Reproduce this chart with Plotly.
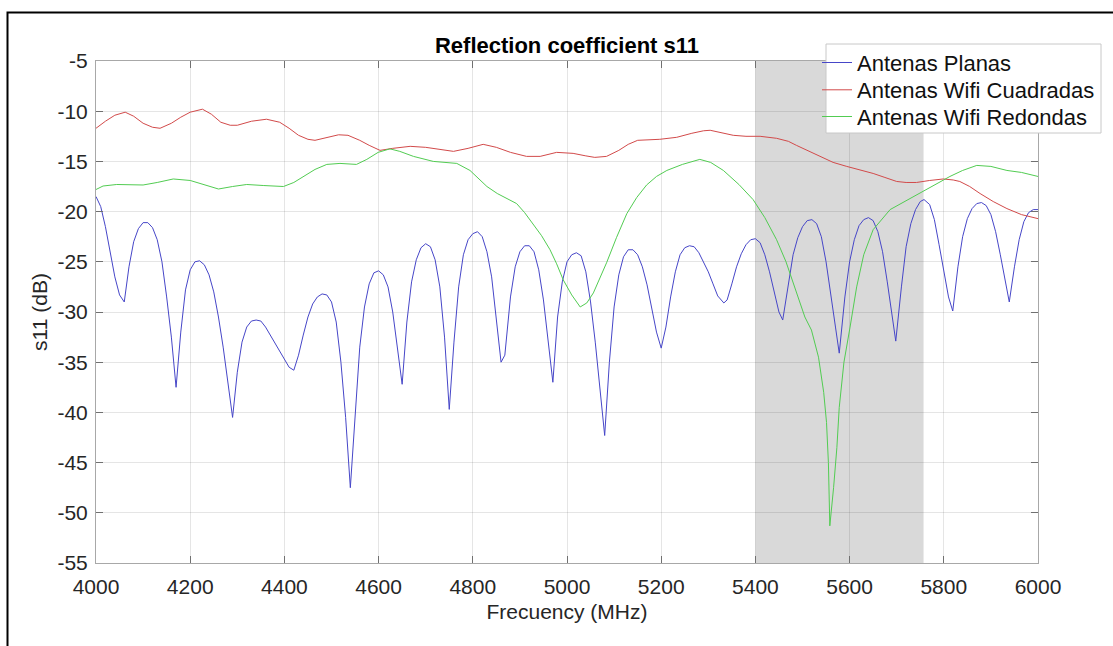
import plotly.graph_objects as go

# ---------------- data ----------------
freq_planas = [4000, 4010, 4020, 4030, 4040, 4050, 4060, 4070, 4080, 4090, 4100, 4110, 4120, 4130, 4140, 4150,
               4160, 4170, 4180, 4190, 4200, 4210, 4220, 4230, 4240, 4250, 4260, 4270, 4280, 4290, 4300, 4310,
               4320, 4330, 4340, 4350, 4360, 4370, 4380, 4390, 4400, 4410, 4420, 4430, 4440, 4450, 4460, 4470,
               4480, 4490, 4500, 4510, 4520, 4530, 4540, 4550, 4560, 4570, 4580, 4590, 4600, 4610, 4620, 4630,
               4640, 4650, 4660, 4670, 4680, 4690, 4700, 4710, 4720, 4730, 4740, 4750, 4760, 4770, 4780, 4790,
               4800, 4810, 4820, 4830, 4840, 4850, 4860, 4868, 4880, 4890, 4900, 4910, 4920, 4930, 4940, 4950,
               4960, 4970, 4980, 4990, 5000, 5010, 5020, 5030, 5040, 5050, 5060, 5070, 5080, 5090, 5100, 5110,
               5120, 5130, 5140, 5150, 5160, 5170, 5180, 5190, 5200, 5210, 5220, 5230, 5240, 5250, 5260, 5270,
               5280, 5290, 5300, 5310, 5320, 5333, 5340, 5350, 5360, 5370, 5380, 5390, 5400, 5410, 5420, 5430,
               5440, 5450, 5458, 5470, 5480, 5490, 5500, 5510, 5520, 5530, 5540, 5550, 5560, 5570, 5578, 5590,
               5600, 5610, 5620, 5630, 5640, 5650, 5660, 5670, 5680, 5690, 5698, 5710, 5720, 5730, 5740, 5750,
               5758, 5770, 5780, 5790, 5800, 5810, 5819, 5830, 5840, 5850, 5860, 5870, 5880, 5890, 5900, 5910,
               5920, 5930, 5939, 5950, 5960, 5970, 5980, 5990, 6000]
s11_planas = [-18.5, -19.5, -21.5, -24.0, -26.5, -28.3, -29.0, -25.5, -23.0, -21.7, -21.1, -21.1, -21.6, -22.8, -25.0, -28.5,
              -32.5, -37.5, -32.0, -27.8, -25.8, -25.0, -24.9, -25.3, -26.3, -28.0, -30.5, -33.5, -37.0, -40.5, -36.0, -33.0,
              -31.5, -30.9, -30.8, -30.9, -31.5, -32.3, -33.2, -34.0, -34.8, -35.5, -35.8, -34.3, -32.3, -30.5, -29.2, -28.5,
              -28.2, -28.3, -29.0, -31.0, -35.0, -40.5, -47.5, -40.0, -33.5, -29.5, -27.2, -26.1, -25.9, -26.3, -27.5, -30.0,
              -33.5, -37.2, -31.0, -27.0, -24.8, -23.6, -23.2, -23.5, -24.8, -27.5, -32.5, -39.7, -33.0, -27.5, -24.3, -22.8,
              -22.2, -22.0, -22.5, -24.0, -26.5, -30.5, -35.0, -34.3, -28.5, -25.5, -24.0, -23.4, -23.4, -24.0, -25.8, -28.8,
              -33.0, -37.0, -30.5, -27.0, -25.0, -24.3, -24.1, -24.4, -26.0, -29.0, -33.0, -37.5, -42.3, -35.0, -29.5, -26.3,
              -24.5, -23.8, -23.8, -24.3, -25.5, -27.3, -29.5, -32.0, -33.6, -31.5, -28.5, -26.0, -24.3, -23.6, -23.4, -23.5,
              -24.1, -25.0, -26.0, -27.2, -28.4, -29.1, -28.8, -27.2, -25.5, -24.2, -23.3, -22.8, -22.7, -23.1, -24.3, -26.0,
              -28.0, -30.0, -30.8, -27.0, -24.3, -22.6, -21.5, -20.9, -20.8, -21.2, -22.5, -25.0, -28.5, -31.5, -34.1, -28.5,
              -25.0, -22.8, -21.4, -20.8, -20.6, -20.9, -22.0, -24.0, -27.0, -30.5, -32.9, -27.5, -23.5, -21.2, -19.8, -19.0,
              -18.8, -19.3, -20.8, -23.3, -26.0, -28.5, -29.9, -25.5, -22.5, -20.7, -19.7, -19.2, -19.1, -19.4, -20.3, -22.0,
              -24.3, -27.0, -29.0, -25.5, -22.8, -21.0, -20.1, -19.8, -19.8]

freq_cuadradas = [4000, 4020, 4040, 4062, 4080, 4100, 4120, 4136, 4160, 4180, 4200, 4226, 4245, 4265, 4285, 4300,
                  4330, 4362, 4390, 4410, 4430, 4450, 4465, 4490, 4515, 4535, 4560, 4580, 4603, 4630, 4667, 4700,
                  4730, 4759, 4790, 4822, 4850, 4880, 4914, 4943, 4978, 5013, 5040, 5059, 5084, 5110, 5130, 5150,
                  5197, 5233, 5265, 5290, 5304, 5330, 5353, 5380, 5410, 5445, 5470, 5487, 5510, 5537, 5565, 5594,
                  5620, 5650, 5675, 5700, 5720, 5742, 5770, 5799, 5820, 5834, 5855, 5877, 5905, 5934, 5965, 6000]
s11_cuadradas = [-11.7, -11.0, -10.4, -10.1, -10.5, -11.2, -11.6, -11.7, -11.2, -10.6, -10.1, -9.8, -10.3, -11.1, -11.4, -11.4,
                 -11.0, -10.8, -11.1, -11.7, -12.4, -12.8, -12.9, -12.6, -12.35, -12.4, -12.9, -13.4, -13.9, -13.7, -13.5, -13.6,
                 -13.8, -14.0, -13.7, -13.3, -13.6, -14.1, -14.5, -14.5, -14.1, -14.2, -14.45, -14.6, -14.5, -13.9, -13.3, -12.9,
                 -12.8, -12.6, -12.2, -11.95, -11.9, -12.2, -12.4, -12.5, -12.5, -12.7, -13.0, -13.4, -13.9, -14.5, -15.1, -15.5,
                 -15.8, -16.2, -16.6, -17.0, -17.1, -17.1, -16.9, -16.75, -16.85, -17.0, -17.5, -18.2, -19.0, -19.7, -20.3, -20.7]

freq_redondas = [4000, 4015, 4044, 4070, 4100, 4130, 4164, 4200, 4230, 4260, 4290, 4320, 4355, 4398, 4420, 4440,
                 4465, 4490, 4518, 4553, 4575, 4599, 4624, 4645, 4674, 4716, 4766, 4794, 4812, 4830, 4852, 4872,
                 4893, 4910, 4928, 4946, 4964, 4978, 4992, 5010, 5028, 5042, 5056, 5070, 5084, 5105, 5127, 5148,
                 5169, 5190, 5212, 5245, 5282, 5305, 5332, 5365, 5395, 5420, 5445, 5465, 5487, 5505, 5519, 5534,
                 5545, 5551, 5555, 5558, 5566, 5573, 5578, 5588, 5601, 5615, 5630, 5650, 5686, 5735, 5778, 5813,
                 5840, 5870, 5900, 5934, 5965, 6000]
s11_redondas = [-17.8, -17.45, -17.3, -17.35, -17.35, -17.1, -16.75, -16.9, -17.35, -17.75, -17.5, -17.3, -17.4, -17.5, -17.1, -16.5,
                -15.8, -15.3, -15.2, -15.3, -14.8, -14.1, -13.75, -14.0, -14.5, -15.0, -15.2, -15.9, -16.7, -17.5, -18.2, -18.7,
                -19.2, -20.1, -21.2, -22.4, -23.8, -25.2, -26.8, -28.3, -29.5, -29.1, -28.1, -26.6, -25.1, -22.6, -20.2, -18.6,
                -17.35, -16.5, -15.9, -15.3, -14.8, -15.1, -15.9, -17.3, -18.8, -20.6, -22.8, -25.0, -28.1, -30.5, -31.8, -34.5,
                -38.0, -41.0, -45.0, -51.3, -47.5, -43.5, -39.5, -35.0, -31.5, -27.5, -24.3, -21.8, -19.8, -18.5, -17.35, -16.5,
                -15.9, -15.4, -15.5, -15.9, -16.1, -16.5]

band_start = 5400
band_end = 5757

series_names = ["Antenas Planas", "Antenas Wifi Cuadradas", "Antenas Wifi Redondas"]
series_colors = ["#4646c8", "#d24a4a", "#52cc52"]

title_text = "Reflection coefficient s11"
x_title = "Frecuency (MHz)"
y_title = "s11 (dB)"
x_range = [4000, 6000]
y_range = [-55, -5]
x_tick_vals = [4000, 4200, 4400, 4600, 4800, 5000, 5200, 5400, 5600, 5800, 6000]
x_tick_text = ["4000", "4200", "4400", "4600", "4800", "5000", "5200", "5400", "5600", "5800", "6000"]
y_tick_vals = [-55, -50, -45, -40, -35, -30, -25, -20, -15, -10, -5]
y_tick_text = ["-55", "-50", "-45", "-40", "-35", "-30", "-25", "-20", "-15", "-10", "-5"]

# ---------------- figure ----------------
FONT = "Liberation Sans, Arial, Helvetica, sans-serif"
TXT = "#262626"
W, H = 1113, 646
L, R, T, B = 96, 75, 61, 83
pw, ph = W - L - R, H - T - B


def px_x(px):
    return (px - L) / pw


def px_y(py):
    return (H - B - py) / ph


legend_ids = ["legend", "legend2", "legend3"]
fig = go.Figure()
for i, (fx, fy) in enumerate([(freq_planas, s11_planas),
                              (freq_cuadradas, s11_cuadradas),
                              (freq_redondas, s11_redondas)]):
    fig.add_trace(go.Scatter(x=fx, y=fy, mode="lines", name=series_names[i],
                             legend=legend_ids[i],
                             line=dict(color=series_colors[i], width=1)))

# shaded band
fig.add_shape(type="rect", xref="x", yref="paper", x0=band_start, x1=band_end, y0=0, y1=1,
              fillcolor="#d9d9d9", line=dict(width=0), layer="below")

# legend box (white, covers the lines)
fig.add_shape(type="rect", xref="paper", yref="paper",
              x0=px_x(826), x1=px_x(1101), y0=px_y(133), y1=px_y(44),
              fillcolor="white", line=dict(color="#c8c8c8", width=1), layer="above")

# outer figure frame (only left/top visible in reference)
fig.add_shape(type="rect", xref="paper", yref="paper",
              x0=px_x(7.5), x1=px_x(W + 20),
              y0=px_y(H + 20), y1=px_y(12.5),
              line=dict(color="black", width=2), fillcolor="rgba(0,0,0,0)", layer="above")

axis_common = dict(
    showgrid=True, gridcolor="rgba(38,38,38,0.12)", gridwidth=1,
    showline=True, linecolor="#a8a8a8", linewidth=1, mirror="ticks",
    ticks="inside", ticklen=7, tickwidth=1, tickcolor="#707070",
    zeroline=False,
    tickfont=dict(family=FONT, size=21, color=TXT),
)

fig.update_xaxes(range=x_range, tickvals=x_tick_vals, ticktext=x_tick_text, ticklabelstandoff=5,
                 title=dict(text=x_title, font=dict(family=FONT, size=21, color=TXT), standoff=7),
                 **axis_common)
fig.update_yaxes(range=y_range, tickvals=y_tick_vals, ticktext=y_tick_text, ticklabelstandoff=3,
                 title=dict(text=y_title, font=dict(family=FONT, size=21, color=TXT), standoff=4),
                 **axis_common)

row_centers = [62.7, 90, 116.7]
leg_common = dict(xanchor="left", yanchor="middle", bgcolor="rgba(0,0,0,0)", borderwidth=0,
                  font=dict(family=FONT, size=22, color="#111111"), itemwidth=30)
legends = {}
for i, lid in enumerate(legend_ids):
    legends[lid] = dict(x=px_x(817), y=px_y(row_centers[i]), **leg_common)

fig.update_layout(
    width=W, height=H, autosize=False,
    margin=dict(l=L, r=R, t=T, b=B, pad=0, autoexpand=False),
    paper_bgcolor="white", plot_bgcolor="white",
    title=dict(text="<b>" + title_text + "</b>", x=(L + pw / 2) / W, xanchor="center",
               y=1 - 45 / H, yanchor="middle",
               font=dict(family=FONT, size=22, color="black")),
    showlegend=True,
    **legends,
)

fig.write_html("out.html")
